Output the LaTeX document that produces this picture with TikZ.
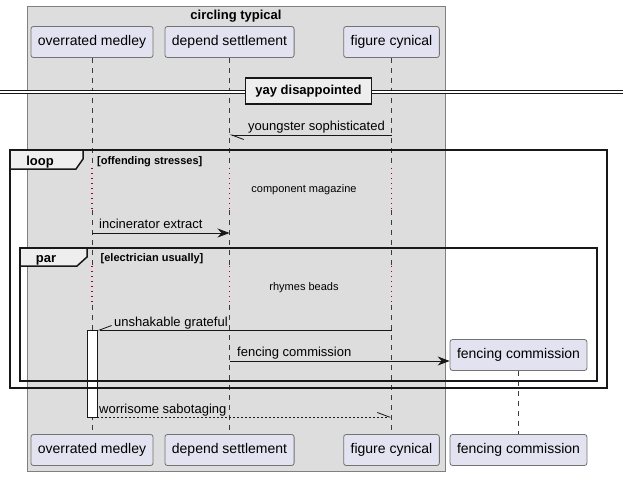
\documentclass[tikz,border=0pt]{standalone}
\usepackage{fontspec}
\setmainfont{Liberation Sans}
\usetikzlibrary{arrows.meta}
\definecolor{boxgrey}{HTML}{DDDDDD}
\definecolor{partfill}{HTML}{E2E2F0}
\definecolor{linedark}{HTML}{181818}
\definecolor{tabfill}{HTML}{EEEEEE}
\definecolor{delayred}{HTML}{A80036}
\begin{document}
\begin{tikzpicture}[x=1pt,y=-1pt,%
% common options for the participants:
part/.style = {draw=black!55, fill=partfill, rounded corners=2.5pt, line width=0.8pt,
            font=\fontsize{14}{16}\selectfont, minimum height=31pt, inner xsep=7pt},
% common options for the lifelines:
life/.style = {draw=linedark!85, line width=0.6pt, dash pattern=on 5pt off 5pt},
delay/.style = {draw=delayred, line width=1.1pt, dash pattern=on 1pt off 4pt},
% common options for messages and their texts:
msg/.style = {draw=linedark, line width=0.8pt},
msgtext/.style = {font=\fontsize{13}{15}\selectfont, anchor=base west, inner sep=0},
fillhead/.style = {-{Stealth[length=12pt,width=9pt,inset=4pt]}},
% common options for the frames:
frame/.style = {draw=linedark, line width=1.5pt},
tab/.style = {draw=linedark, fill=tabfill, line width=1.5pt},
tabtext/.style = {font=\bfseries\fontsize{13}{15}\selectfont, anchor=base, inner sep=0},
guard/.style = {font=\bfseries\fontsize{11}{13}\selectfont, anchor=base west, inner sep=0},
delaytext/.style = {font=\fontsize{11}{13}\selectfont, inner sep=0}]
\useasboundingbox (0,0) rectangle (623,476);
% the grey box round the first three participants
\draw[draw=black!50, fill=boxgrey, line width=0.7pt] (27,6) rectangle (445,471);
\node[font=\bfseries\fontsize{13}{15}\selectfont, anchor=base, inner sep=0] (title) at (236,20) {circling typical};
% rows of the messages and the delays
\coordinate (m1) at (0,135);
\coordinate (m2) at (0,233);
\coordinate (m3) at (0,330);
\coordinate (m4) at (0,361);
\coordinate (m5) at (0,417);
\coordinate (d1s) at (0,168);
\coordinate (d1e) at (0,210);
\coordinate (d2s) at (0,266);
\coordinate (d2e) at (0,305);
% participants
\node[part] (P1) at (92,42) {overrated medley};
\node[part] (P2) at (229.5,42) {depend settlement};
\node[part] (P3) at (391.5,42) {figure cynical};
\node[part] (P4) at (518.5,355) {fencing commission};
\node[part] (Q1) at (92,450) {overrated medley};
\node[part] (Q2) at (229.5,450) {depend settlement};
\node[part] (Q3) at (391.5,450) {figure cynical};
\node[part] (Q4) at (518.5,450) {fencing commission};
% lifelines
\draw[life] (P1.south) to (P1 |- d1s);
\draw[delay] (P1 |- d1s) to (P1 |- d1e);
\draw[life] (P1 |- d1e) to (P1 |- d2s);
\draw[delay] (P1 |- d2s) to (P1 |- d2e);
\draw[life] (P1 |- d2e) to (Q1.north);
\draw[life] (P2.south) to (P2 |- d1s);
\draw[delay] (P2 |- d1s) to (P2 |- d1e);
\draw[life] (P2 |- d1e) to (P2 |- d2s);
\draw[delay] (P2 |- d2s) to (P2 |- d2e);
\draw[life] (P2 |- d2e) to (Q2.north);
\draw[life] (P3.south) to (P3 |- d1s);
\draw[delay] (P3 |- d1s) to (P3 |- d1e);
\draw[life] (P3 |- d1e) to (P3 |- d2s);
\draw[delay] (P3 |- d2s) to (P3 |- d2e);
\draw[life] (P3 |- d2e) to (Q3.north);
\draw[life] (P4.south) to (Q4.north);
% divider
\coordinate (divL) at (0,91.8);
\coordinate (divR) at (623,91.8);
\draw[draw=linedark, line width=0.9pt, double=white, double distance=2.2pt] (divL) to (divR);
\node[draw=linedark, fill=tabfill, line width=1.6pt, minimum height=26pt, inner xsep=10pt,
      font=\bfseries\fontsize{13}{15}\selectfont] (div) at (308.5,91) {yay disappointed};
% activation on overrated medley
\node[draw=linedark, fill=white, line width=0.8pt, minimum width=10pt, minimum height=87pt,
      inner sep=0, anchor=north] (act) at (92,330) {};
% messages
\draw[msg, -{Straight Barb[left,length=12pt,width=9pt]}] (P3 |- m1) to (P2 |- m1);
\node[msgtext] (t1) at (248,131) {youngster sophisticated};
\draw[msg, fillhead] (P1 |- m2) to (P2 |- m2);
\node[msgtext] (t2) at (99,228) {incinerator extract};
\draw[msg, -{Straight Barb[right,length=12pt,width=9pt]}] (P3 |- m3) to (act.east |- m3);
\node[msgtext] (t3) at (114,326) {unshakable grateful};
\draw[msg, fillhead] (P2 |- m4) to (P4.west |- m4);
\node[msgtext] (t4) at (237,356) {fencing commission};
\draw[msg, dash pattern=on 2pt off 2pt, -{Straight Barb[left,length=12pt,width=9pt]}] (act.east |- m5) to (P3 |- m5);
\node[msgtext] (t5) at (99,413) {worrisome sabotaging};
% delays
\node[delaytext] (c1) at (304,190) {component magazine};
\node[delaytext] (c2) at (304,288) {rhymes beads};
% loop frame
\draw[frame] (10,150) rectangle (607,388);
\draw[tab] (10,150) -- (83,150) -- (83,159) -- (76,169) -- (10,169) -- cycle;
\node[tabtext] (loop) at (40,165) {loop};
\node[guard] (g1) at (97,164) {[offending stresses]};
% par frame
\draw[frame] (20,248) rectangle (597,381);
\draw[tab] (20,248) -- (87,248) -- (87,257) -- (77,266) -- (20,266) -- cycle;
\node[tabtext] (par) at (46,262.5) {par};
\node[guard] (g2) at (100.5,261.5) {[electrician usually]};
\end{tikzpicture}
\end{document}
